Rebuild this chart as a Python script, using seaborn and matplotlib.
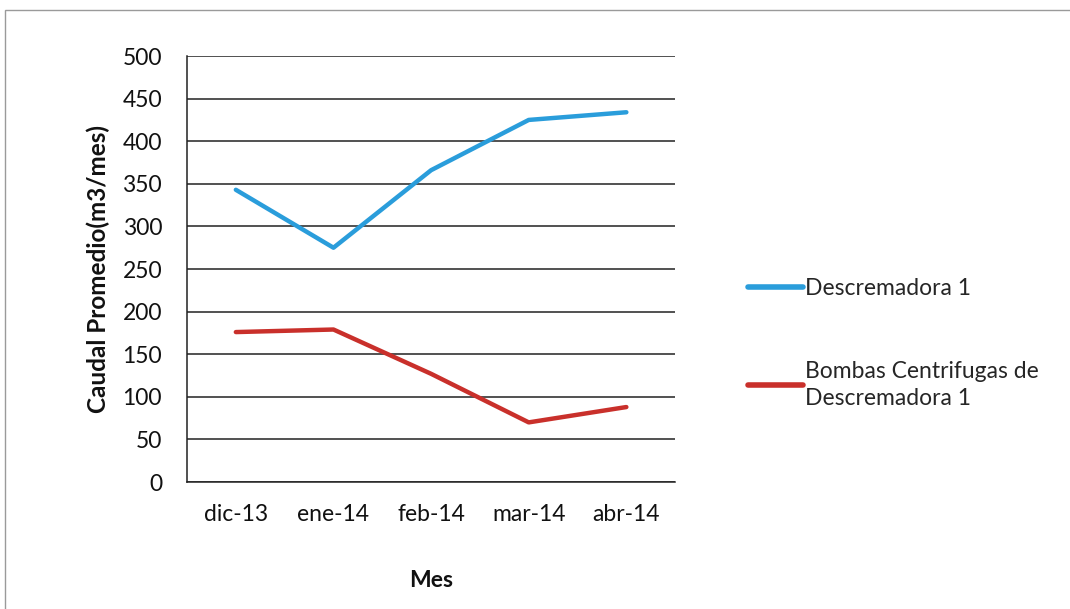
import matplotlib
matplotlib.use("Agg")
import matplotlib.pyplot as plt
import seaborn as sns
import pandas as pd
from matplotlib.patches import Rectangle

meses = ["dic-13", "ene-14", "feb-14", "mar-14", "abr-14"]
descremadora = [343, 275, 366, 425, 434]
bombas = [176, 179, 127, 70, 88]
series_names = ["Descremadora 1", "Bombas Centrifugas de\nDescremadora 1"]
colores = ["#2a9ddb", "#c9302b"]

df = pd.DataFrame({
    "Mes": meses * 2,
    "Caudal": descremadora + bombas,
    "Serie": [series_names[0]] * len(meses) + [series_names[1]] * len(meses),
})

sns.set_style("white")
plt.rcParams["font.family"] = ["Lato", "DejaVu Sans"]

FS = 16.5

fig = plt.figure(figsize=(10.70, 6.09), dpi=100)
ax = fig.add_axes([0.1748, 0.2085, 0.4562, 0.6995])

sns.lineplot(data=df, x="Mes", y="Caudal", hue="Serie", palette=colores,
             linewidth=3.2, ax=ax, sort=False, legend=True)

ax.set_ylim(0, 500)
ax.set_xlim(-0.5, len(meses) - 0.5)
ax.set_yticks(range(0, 501, 50))
ax.yaxis.grid(True, color="#222222", linewidth=1.1)
ax.xaxis.grid(False)
ax.set_axisbelow(True)
for side in ["top", "right"]:
    ax.spines[side].set_visible(False)
for side in ["left", "bottom"]:
    ax.spines[side].set_color("#222222")
    ax.spines[side].set_linewidth(1.1)
ax.tick_params(axis="y", length=0, pad=18, labelsize=FS, labelcolor="#111111")
ax.tick_params(axis="x", length=0, pad=16, labelsize=FS, labelcolor="#111111")

ax.set_ylabel("Caudal Promedio(m3/mes)", fontsize=17.5, fontweight="bold",
              labelpad=9, color="#111111")
ax.set_xlabel("Mes", fontsize=FS, fontweight="bold", labelpad=32,
              color="#111111")

leg = ax.legend(loc="center left", bbox_to_anchor=(1.15, 0.325), frameon=False,
                fontsize=FS, handlelength=2.4, handletextpad=0.08,
                labelspacing=2.7, borderpad=0, borderaxespad=0)
for line in leg.get_lines():
    line.set_linewidth(4)
for txt in leg.get_texts():
    txt.set_linespacing(1.35)

# outer chart frame
fig.patches.append(Rectangle((0.005, -0.02), 1.2, 1.0035, transform=fig.transFigure,
                             fill=False, edgecolor="#9a9a9a", linewidth=1.0))

fig.savefig("out.png", dpi=100)
